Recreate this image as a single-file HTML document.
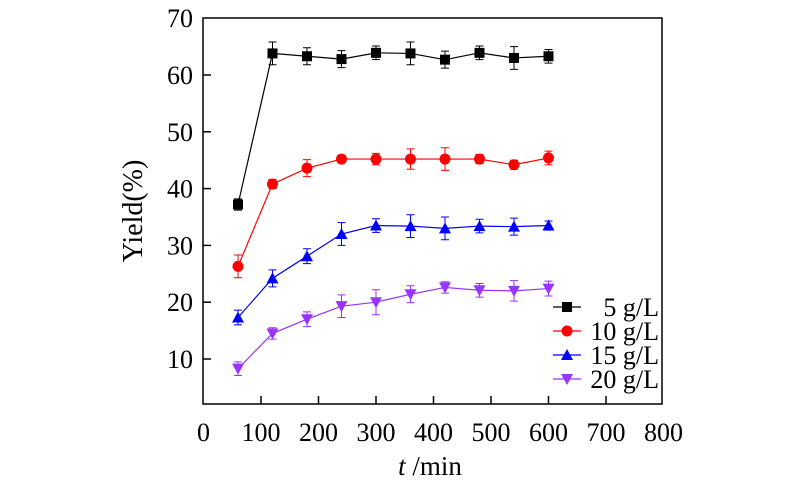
<!DOCTYPE html>
<html><head><meta charset="utf-8"><style>
html,body{margin:0;padding:0;background:#fff;}
svg{display:block;font-family:"Liberation Serif",serif;}
</style></head><body>
<svg id="c" width="800" height="493"></svg>
<script>
const times=[60,120,180,240,300,360,420,480,540,600];
const s5=[37.2,63.8,63.3,62.8,63.9,63.8,62.7,63.9,63.0,63.3];
const e5=[1,2,1.5,1.5,1.2,2,1.5,1.2,2,1.2];
const s10=[26.3,40.8,43.6,45.2,45.2,45.2,45.2,45.2,44.2,45.4];
const e10=[2,0.8,1.5,0.7,1,1.8,2,0.8,0.8,1.2];
const s15=[17.3,24.2,28.1,32,33.5,33.4,33,33.4,33.3,33.5];
const e15=[1.3,1.5,1.3,2,1.2,2,2,1.2,1.5,0.8];
const s20=[8.3,14.5,17,19.3,20,21.4,22.6,22.1,22,22.4];
const e20=[1.2,1,1.3,2,2.2,1.5,1,1.2,1.8,1.3];
const xTicks=[0,100,200,300,400,500,600,700,800];
const yTicks=[10,20,30,40,50,60,70];
const seriesNames=["5 g/L","10 g/L","15 g/L","20 g/L"];
const NS="http://www.w3.org/2000/svg";
const svg=document.getElementById('c');
const X=v=>203.5+v*0.575;
const Y=v=>359-(v-10)*5.68;
function el(t,a,p){const e=document.createElementNS(NS,t);for(const k in a)e.setAttribute(k,a[k]);(p||svg).appendChild(e);return e;}
const box=el('rect',{x:203,y:18,width:459,height:386,fill:'none',stroke:'#000','stroke-width':1.5});


xTicks.forEach(v=>{
  if(v>0&&v<800){const t=el('line',{x1:X(v),x2:X(v),y1:404,y2:396,stroke:'#000','stroke-width':1.5});
  
  }
  const l=el('text',{x:X(v),y:441,'text-anchor':'middle','font-size':26});l.textContent=v;
  
  
});
yTicks.forEach(v=>{
  if(v<70){const t=el('line',{x1:203,x2:211,y1:Y(v),y2:Y(v),stroke:'#000','stroke-width':1.5});
  
  }
  const l=el('text',{x:193,y:Y(v)+9,'text-anchor':'end','font-size':26});l.textContent=v;
  
  
});
const xt=el('text',{x:430,y:475,'text-anchor':'middle','font-size':27});
xt.innerHTML='<tspan font-style="italic">t</tspan> /min';


const yt=el('text',{x:0,y:0,'text-anchor':'middle','font-size':28,transform:'translate(142,211) rotate(-90)'});
yt.textContent='Yield(%)';


function marker(g,type,x,y,c){
  if(type==='sq')return el('rect',{x:x-5,y:y-5,width:10,height:10,fill:c},g);
  if(type==='ci')return el('circle',{cx:x,cy:y,r:5.5,fill:c},g);
  if(type==='up')return el('polygon',{points:`${x-6},${y+5} ${x+6},${y+5} ${x},${y-6}`,fill:c},g);
  return el('polygon',{points:`${x-6},${y-5} ${x+6},${y-5} ${x},${y+6}`,fill:c},g);
}
const series=[[s5,e5,'#000','sq'],[s10,e10,'#ff0000','ci'],[s15,e15,'#0000ff','up'],[s20,e20,'#9933ff','dn']];
series.forEach(([vals,errs,c,m],si)=>{
  const g=el('g',{});
  
  
  el('polyline',{points:times.map((t,i)=>X(t)+','+Y(vals[i])).join(' '),fill:'none',stroke:c,'stroke-width':1.2},g);
  times.forEach((t,i)=>{
    const x=X(t),y1=Y(vals[i]+errs[i]),y2=Y(vals[i]-errs[i]);
    el('path',{d:`M${x},${y1}V${y2}M${x-4},${y1}H${x+4}M${x-4},${y2}H${x+4}`,stroke:c,'stroke-width':1,fill:'none'},g);
    const mk=marker(g,m,x,Y(vals[i]),c);
    
    
  });
  const ly=307+si*24;
  const lg=el('g',{});
  
  
  el('line',{x1:553,x2:581,y1:ly,y2:ly,stroke:c,'stroke-width':1.2},lg);
  marker(lg,m,567,ly,c);
  const lt=el('text',{x:659,y:ly+9,'text-anchor':'end','font-size':26},lg);lt.textContent=seriesNames[si];
});
</script>
</body></html>
